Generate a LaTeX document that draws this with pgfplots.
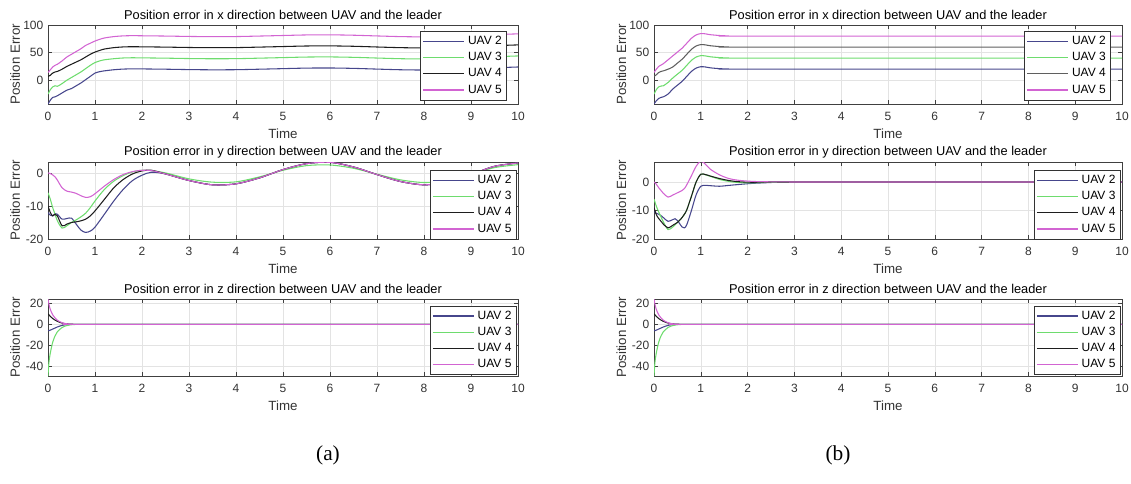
\documentclass[border=0pt]{standalone}
\usepackage{fontspec}
\setmainfont{Liberation Sans}
\newfontfamily\seriffont{Liberation Serif}
\usepackage{pgfplots}
\usepackage{pgfplotstable}
\pgfplotsset{compat=1.18}

\definecolor{cblue}{RGB}{70,70,140}
\definecolor{cgreen}{RGB}{110,220,110}
\definecolor{cblack}{RGB}{30,30,30}
\definecolor{cgray}{RGB}{95,95,95}
\definecolor{cmag}{RGB}{210,100,210}

% (a) x error
\pgfplotstableread{
t u2 u3 u4 u5
0 -43 -25 7 14
0.05 -36 -17 9 19
0.1 -31 -12 13 24
0.15 -30 -10 15 27
0.2 -28 -11 16 29
0.3 -23 -6 20 35
0.4 -18 0 25 42
0.5 -15 5 29 47
0.6 -10 10 33 52
0.7 -5 15 37 57
0.8 1 21 42 63
0.9 7 27 47 67
1.0 13 32 51 71
1.1 15.5 35 54 74
1.2 17 37 56.5 76.5
1.4 19 39 59 79
1.6 20.2 40.3 60.3 80.3
1.8 20.6 40.7 60.7 80.7
2.0 20.5 40.5 60.5 80.5
2.5 20 40 60 80
3 19.3 39.3 59.3 79.3
3.5 18.9 38.9 58.9 78.9
4 19.1 39.1 59.1 79.1
4.5 20 40 60 80
5 21 41 61 81
5.5 22 42 62 82
6 22.2 42.2 62.2 82.2
6.5 21.5 41.5 61.5 81.5
7 20.2 40.2 60.2 80.2
7.5 19 39 59 79
8 18.5 38.5 58.5 78.5
8.5 19 39 59 79
9 20.5 40.5 60.5 80.5
9.5 22.5 42.5 62.5 82.5
10 24 44 64 84
}\AX

% (a) y error
\pgfplotstableread{
t u2 u3 u4 u5
0 -12 -6 -10 0
0.05 -12.8 -8 -12 -0.2
0.1 -13 -10.5 -13 -0.6
0.15 -12.3 -12.5 -12.5 -1.2
0.2 -12.5 -14.5 -13 -2.2
0.3 -14 -16.7 -16 -4.5
0.4 -13.8 -16 -15.5 -5.5
0.5 -13.7 -15 -15 -5.8
0.6 -15.5 -14.2 -14.8 -6.2
0.7 -17.3 -13.3 -14.5 -6.9
0.8 -18 -12.2 -14 -7.4
0.9 -17.6 -10.5 -13 -7.2
1.0 -16.4 -8.5 -11.5 -6.3
1.2 -12.5 -5 -8 -4
1.4 -8.5 -2.5 -4.5 -2
1.6 -5 -0.8 -2 -0.5
1.8 -2.3 0.3 -0.3 0.4
2.0 -0.7 0.8 0.6 0.8
2.2 0.2 0.7 0.8 0.7
2.5 -0.3 0 -0.3 -0.3
3 -2.3 -1.8 -2.3 -2.3
3.5 -3.6 -2.8 -3.6 -3.6
4 -3.3 -2.7 -3.3 -3.3
4.5 -1.5 -1.2 -1.5 -1.5
5 1 0.8 1 1
5.5 2.8 2.2 2.8 2.8
6 3.2 2.4 3.2 3.2
6.5 1.8 1.4 1.8 1.8
7 -0.5 -0.4 -0.5 -0.5
7.5 -2.6 -2.1 -2.6 -2.6
8 -3.6 -2.9 -3.6 -3.6
8.5 -2.8 -2.3 -2.8 -2.8
9 -0.5 -0.4 -0.5 -0.5
9.5 2 1.6 2 2
10 3 2.5 3 3
}\AY

% z error, both cases
\pgfplotstableread{
t u2 u3 u4 u5
0 -6 -49 10 24
0.02 -6 -36 9 19
0.05 -5.5 -27 7.5 14
0.1 -4.5 -17 5.5 9
0.15 -3.5 -11 4 6
0.2 -2.5 -7 2.8 3.8
0.3 -1 -3 1.2 1.5
0.4 -0.3 -1.2 0.4 0.5
0.5 0 -0.4 0.1 0.1
0.6 0 -0.1 0 0
1 0 0 0 0
10 0 0 0 0
}\AZ

% (b) x error
\pgfplotstableread{
t u2 u3 u4 u5
0 -43 -25 7 14
0.05 -37 -17 10 20
0.1 -33 -12 14 25
0.15 -31 -10.5 16 27.5
0.2 -30 -10 17 30
0.3 -25 -4 20 37
0.4 -16 4 24 44
0.5 -9 11 31 51
0.6 -2 18 38 58
0.7 7 27 47 67
0.8 16 36 56 76
0.9 22 42 62 82
1.0 24.5 44.5 64.5 84.5
1.1 24 44 64 84
1.2 22.5 42.5 62.5 82.5
1.4 21 41 61 81
1.6 20.3 40.3 60.3 80.3
2 20 40 60 80
10 20 40 60 80
}\BX

% (b) y error
\pgfplotstableread{
t u2 u3 u4 u5
0 -10.3 -6 -9 0
0.05 -11 -8.5 -11.5 -0.8
0.1 -11.3 -10.5 -12.8 -2
0.15 -11.8 -12.3 -13.8 -3
0.2 -12.5 -14 -14.8 -4
0.3 -13.8 -16.7 -16.1 -5.3
0.4 -13.2 -15.8 -15.2 -4.6
0.45 -12.9 -15 -14.7 -4.2
0.5 -13.5 -14.2 -14.2 -3.8
0.6 -15.8 -12.5 -12.5 -3
0.65 -16.1 -11.3 -11.3 -2.3
0.7 -15 -9.8 -9.8 -1
0.8 -10 -5 -5 2.2
0.9 -4.5 0 0 5.5
1.0 -1.5 2.7 2.7 7.3
1.1 -1.2 2.5 2.6 6.2
1.2 -1.3 2 2.1 4.5
1.4 -1.5 0.9 1.2 2.5
1.6 -1.2 0.2 0.5 1.2
1.8 -0.9 -0.2 0.1 0.6
2.1 -0.5 -0.3 -0.1 0.2
2.5 -0.2 -0.1 0 0.05
3 0 0 0 0
10 0 0 0 0
}\BY

\pgfplotsset{
  uav/.style={
    scale only axis, anchor=north west,
    xmin=0, xmax=10, xtick={0,...,10},
    grid=major, major grid style={gray!22, line width=0.4pt},
    axis line style={black!75, line width=0.5pt},
    tick align=inside, major tick length=3pt,
    tick style={black!75, line width=0.4pt},
    ticklabel style={font=\fontsize{9}{10}\selectfont, text=black!80},
    /pgf/number format/assume math mode=true,
    xticklabel style={yshift=-2.5pt},
    title style={font=\fontsize{9.6}{11}\selectfont, at={(0.5,1)}, anchor=center, yshift=1.5pt},
    xlabel={Time}, ylabel={Position Error},
    label style={font=\fontsize{10}{11}\selectfont, text=black!80},
    xlabel style={at={(axis description cs:0.5,0)}, anchor=center, yshift=-22.5pt},
    ylabel style={at={(axis description cs:-0.07,0.5)}, anchor=center},
    every axis plot/.append style={line width=0.8pt, smooth},
    legend cell align=right,
    legend style={font=\fontsize{9}{10}\selectfont, draw=black!80, fill=white,
      at={(1,1)}, anchor=north east, inner sep=1.5pt, row sep=0pt,
      nodes={inner sep=2.2pt}},
    legend image code/.code={\draw[line width=0.9pt, ##1] (0pt,0pt) -- (31pt,0pt);},
  },
  toprow/.style={height=59.25pt, legend style={xshift=-8.25pt, yshift=-4.5pt},
    ymin=-43, ymax=100, ytick={0,50,100}},
  midrow/.style={height=57.75pt, legend style={xshift=-1pt, yshift=-6pt}},
  botrow/.style={height=57.75pt, legend style={xshift=-1pt, yshift=-5pt},
    ymin=-49, ymax=24, ytick={-40,-20,0,20}},
}

\begin{document}
\begin{tikzpicture}
\useasboundingbox (0,0) rectangle (848.25pt,-362.25pt);

% ---- left column (a)
\begin{axis}[uav, toprow, at={(36pt,-18.75pt)}, width=352.5pt,
  title={Position error in x direction between UAV and the leader}]
  \addplot[cblue] table[x=t,y=u2]{\AX};
  \addplot[cgreen] table[x=t,y=u3]{\AX};
  \addplot[cblack] table[x=t,y=u4]{\AX};
  \addplot[cmag] table[x=t,y=u5]{\AX};
  \legend{UAV 2,UAV 3,UAV 4,UAV 5}
\end{axis}

\begin{axis}[uav, midrow, at={(36pt,-121.5pt)}, width=352.5pt,
  ymin=-20, ymax=3.3, ytick={-20,-10,0},
  title={Position error in y direction between UAV and the leader}]
  \addplot[cblue] table[x=t,y=u2]{\AY};
  \addplot[cgreen] table[x=t,y=u3]{\AY};
  \addplot[cblack] table[x=t,y=u4]{\AY};
  \addplot[cmag] table[x=t,y=u5]{\AY};
  \legend{UAV 2,UAV 3,UAV 4,UAV 5}
\end{axis}

\begin{axis}[uav, botrow, at={(36pt,-224.25pt)}, width=352.5pt,
  title={Position error in z direction between UAV and the leader}]
  \addplot[cblue] table[x=t,y=u2]{\AZ};
  \addplot[cgreen] table[x=t,y=u3]{\AZ};
  \addplot[cblack] table[x=t,y=u4]{\AZ};
  \addplot[cmag] table[x=t,y=u5]{\AZ};
  \legend{UAV 2,UAV 3,UAV 4,UAV 5}
\end{axis}

% ---- right column (b)
\begin{axis}[uav, toprow, at={(490.5pt,-18.75pt)}, width=351pt,
  title={Position error in x direction between UAV and the leader}]
  \addplot[cblue] table[x=t,y=u2]{\BX};
  \addplot[cgreen] table[x=t,y=u3]{\BX};
  \addplot[cgray] table[x=t,y=u4]{\BX};
  \addplot[cmag] table[x=t,y=u5]{\BX};
  \legend{UAV 2,UAV 3,UAV 4,UAV 5}
\end{axis}

\begin{axis}[uav, midrow, at={(490.5pt,-121.5pt)}, width=351pt,
  ymin=-20, ymax=7, ytick={-20,-10,0},
  title={Position error in y direction between UAV and the leader}]
  \addplot[cblue] table[x=t,y=u2]{\BY};
  \addplot[cgreen] table[x=t,y=u3]{\BY};
  \addplot[cblack] table[x=t,y=u4]{\BY};
  \addplot[cmag] table[x=t,y=u5]{\BY};
  \legend{UAV 2,UAV 3,UAV 4,UAV 5}
\end{axis}

\begin{axis}[uav, botrow, at={(490.5pt,-224.25pt)}, width=351pt,
  title={Position error in z direction between UAV and the leader}]
  \addplot[cblue] table[x=t,y=u2]{\AZ};
  \addplot[cgreen] table[x=t,y=u3]{\AZ};
  \addplot[cblack] table[x=t,y=u4]{\AZ};
  \addplot[cmag] table[x=t,y=u5]{\AZ};
  \legend{UAV 2,UAV 3,UAV 4,UAV 5}
\end{axis}

\node[font=\seriffont\fontsize{16}{18}\selectfont] at (246pt,-341.25pt) {(a)};
\node[font=\seriffont\fontsize{16}{18}\selectfont] at (628.5pt,-341.25pt) {(b)};
\end{tikzpicture}
\end{document}
